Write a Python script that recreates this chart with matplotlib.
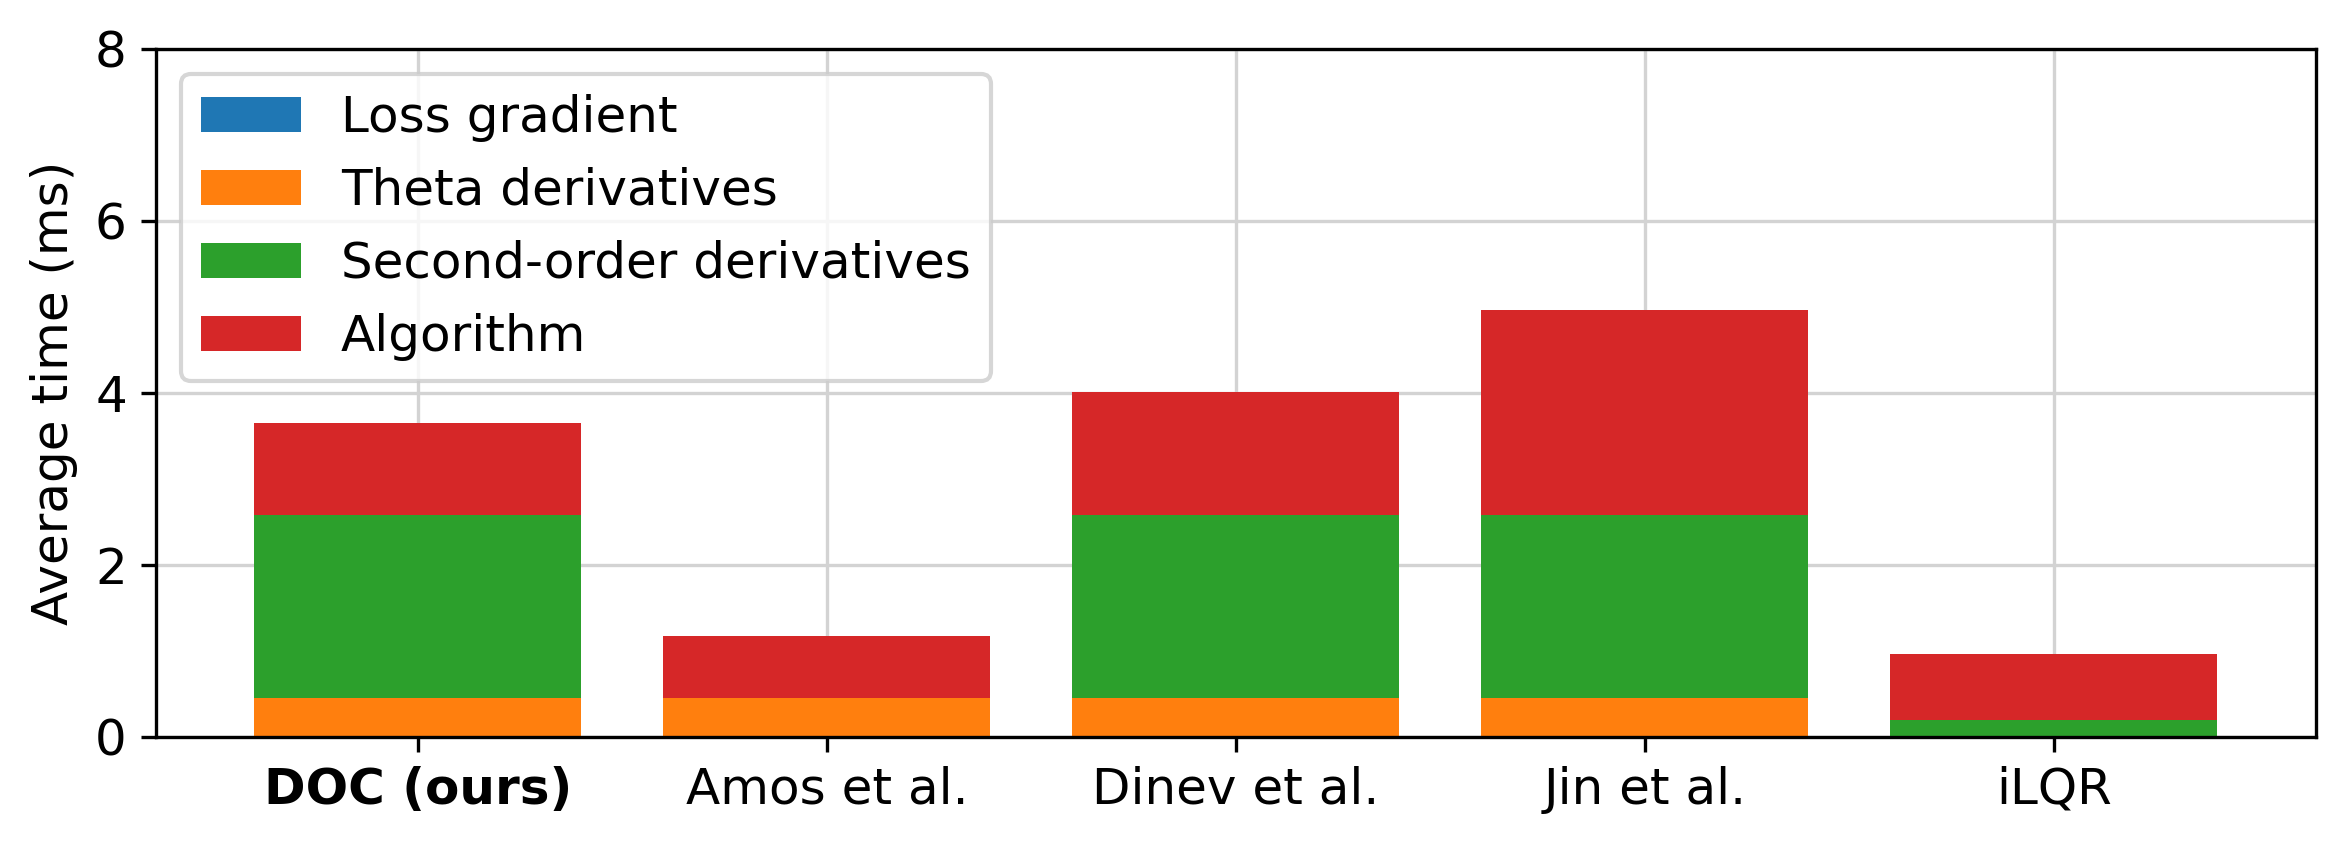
import matplotlib

matplotlib.use("Agg")
import matplotlib.pyplot as plt
import numpy as np

plt.rcParams["font.size"] = 12

methods = ["DOC (ours)", "Amos et al.", "Dinev et al.", "Jin et al.", "iLQR"]
series = ["Loss gradient", "Theta derivatives", "Second-order derivatives", "Algorithm"]

# average time per component (ms)
loss_gradient = [0.005, 0.005, 0.005, 0.005, 0.005]
theta_derivatives = [0.45, 0.45, 0.45, 0.45, 0.0]
second_order = [2.13, 0.0, 2.13, 2.13, 0.19]
algorithm = [1.07, 0.72, 1.43, 2.38, 0.77]

colors = ["#1f77b4", "#ff7f0e", "#2ca02c", "#d62728"]

fig = plt.figure(figsize=(2346 / 300, 844 / 300), dpi=300)
ax = fig.add_axes([0.0665, 0.127, 0.9205, 0.815])

x = np.arange(len(methods))
bottom = np.zeros(len(methods))
for name, vals, c in zip(series, [loss_gradient, theta_derivatives, second_order, algorithm], colors):
    ax.bar(x, vals, 0.8, bottom=bottom, color=c, label=name)
    bottom += np.array(vals)

ax.set_ylim(0, 8)
ax.set_yticks([0, 2, 4, 6, 8])
ax.set_xticks(x)
ax.set_xticklabels(methods)
ax.get_xticklabels()[0].set_fontweight("bold")
ax.set_ylabel("Average time (ms)")
ax.set_axisbelow(True)
ax.grid(True, color="#d3d3d3", linewidth=0.8)
ax.legend(loc="upper left")

fig.savefig("out.png", dpi=300)
